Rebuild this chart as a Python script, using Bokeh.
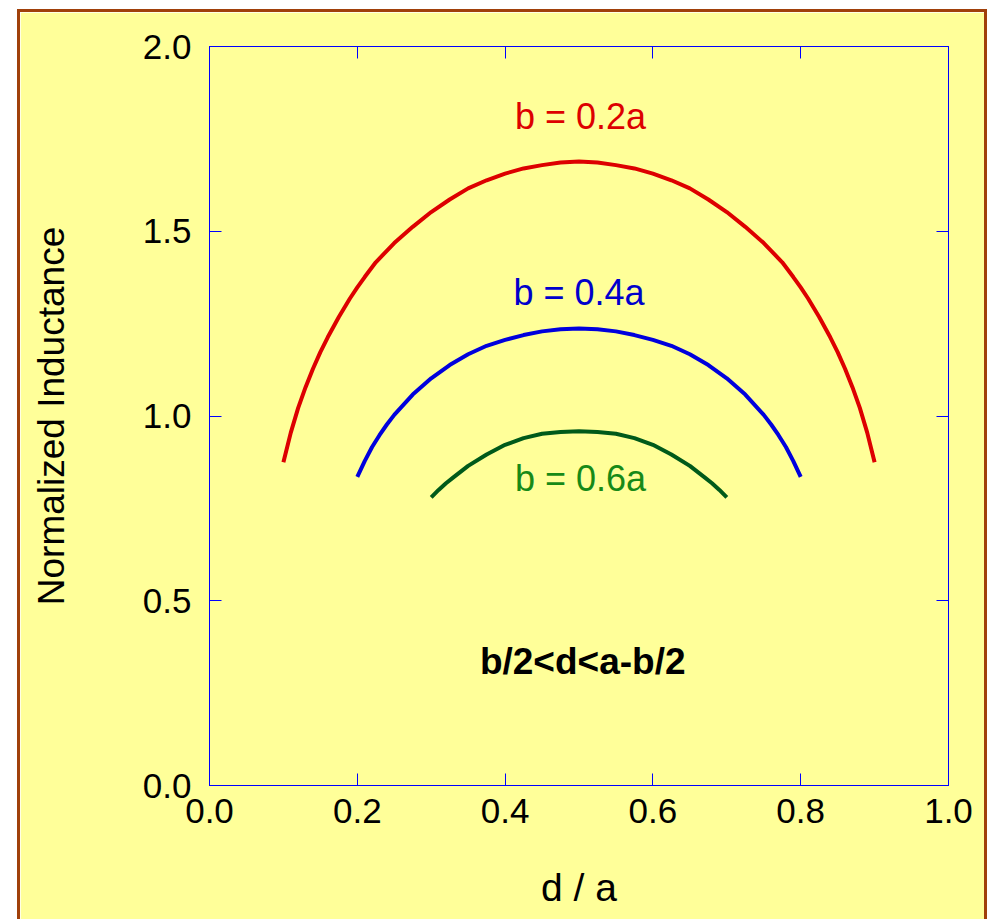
from bokeh.plotting import figure
from bokeh.models import Range1d, LinearAxis, FixedTicker, CustomJSTickFormatter
from bokeh.core.properties import value
from bokeh.embed import file_html
from bokeh.resources import INLINE

# ---- data ----
red_x = [0.1, 0.11, 0.12, 0.13, 0.14, 0.15, 0.16, 0.175, 0.19, 0.2, 0.21, 0.225, 0.25,
         0.275, 0.3, 0.325, 0.35, 0.375, 0.4, 0.425, 0.45, 0.475, 0.5,
         0.525, 0.55, 0.575, 0.6, 0.625, 0.65, 0.675, 0.7, 0.725, 0.75, 0.775, 0.79,
         0.8, 0.81, 0.825, 0.84, 0.85, 0.86, 0.87, 0.88, 0.89, 0.9]
red_y = [0.875, 0.955, 1.022, 1.078, 1.128, 1.173, 1.213, 1.268, 1.318, 1.348, 1.376, 1.416, 1.468,
         1.512, 1.552, 1.586, 1.616, 1.638, 1.656, 1.670, 1.679, 1.686, 1.689,
         1.686, 1.679, 1.670, 1.656, 1.638, 1.616, 1.586, 1.552, 1.512, 1.468, 1.416, 1.376,
         1.348, 1.318, 1.268, 1.213, 1.173, 1.128, 1.078, 1.022, 0.955, 0.875]

blue_x = [0.2, 0.21, 0.22, 0.23, 0.24, 0.25, 0.275, 0.3, 0.325, 0.35, 0.375, 0.4, 0.425,
          0.45, 0.475, 0.5,
          0.525, 0.55, 0.575, 0.6, 0.625, 0.65, 0.675, 0.7, 0.725, 0.75, 0.76, 0.77,
          0.78, 0.79, 0.8]
blue_y = [0.835, 0.878, 0.916, 0.948, 0.977, 1.003, 1.058, 1.102, 1.138, 1.167, 1.190, 1.206, 1.219,
          1.229, 1.235, 1.237,
          1.235, 1.229, 1.219, 1.206, 1.190, 1.167, 1.138, 1.102, 1.058, 1.003, 0.977, 0.948,
          0.916, 0.878, 0.835]

green_x = [0.3, 0.31, 0.32, 0.33, 0.35, 0.375, 0.4, 0.425, 0.45, 0.475, 0.5,
           0.525, 0.55, 0.575, 0.6, 0.625, 0.65, 0.67, 0.68, 0.69, 0.7]
green_y = [0.780, 0.800, 0.818, 0.834, 0.865, 0.896, 0.922, 0.940, 0.952, 0.957, 0.959,
           0.957, 0.952, 0.940, 0.922, 0.896, 0.865, 0.834, 0.818, 0.800, 0.780]

label_texts = ["b = 0.2a", "b = 0.4a", "b = 0.6a"]
label_x = [0.502, 0.5, 0.502]
label_y = [1.81, 1.335, 0.83]
label_colors = ["#DD0000", "#0000CC", "#178A17"]

note_text = ["b/2<d<a-b/2"]
note_x = [0.505]
note_y = [0.335]

x_ticks = [0.0, 0.2, 0.4, 0.6, 0.8, 1.0]
y_ticks = [0.0, 0.5, 1.0, 1.5, 2.0]

FONT = "Liberation Sans"
BG = "#FFFF99"
AXC = "#0000FF"
BRD = "3px solid #A0400A"

p = figure(width=970, height=910, output_backend="svg", toolbar_location=None,
           x_range=Range1d(0, 1), y_range=Range1d(0, 2),
           background_fill_color=BG, border_fill_color=BG,
           min_border_left=189, min_border_right=42, min_border_top=34, min_border_bottom=137)
p.styles = {"border-left": BRD, "border-top": BRD, "border-right": BRD,
            "margin-left": "17px", "margin-top": "9px"}
p.outline_line_color = AXC
p.outline_line_width = 1
p.grid.visible = False

def style_axis(ax, labels=True):
    ax.axis_line_color = AXC
    ax.major_tick_line_color = AXC
    ax.major_tick_in = 12
    ax.major_tick_out = 0
    ax.minor_tick_line_color = None
    ax.major_label_text_font = FONT
    ax.major_label_text_font_size = "35px"
    ax.major_label_text_color = "black"
    ax.axis_label_text_font = FONT
    ax.axis_label_text_font_size = "37px"
    ax.axis_label_text_font_style = "normal"
    ax.axis_label_text_color = "black"
    if not labels:
        ax.major_label_text_font_size = "1px"
        ax.major_label_text_color = None
        ax.major_label_standoff = 0

p.xaxis.ticker = FixedTicker(ticks=x_ticks)
p.yaxis.ticker = FixedTicker(ticks=y_ticks)
p.xaxis.formatter = CustomJSTickFormatter(code="return tick.toFixed(1);")
p.yaxis.formatter = CustomJSTickFormatter(code="return tick.toFixed(1);")
style_axis(p.xaxis[0])
style_axis(p.yaxis[0])
p.xaxis.axis_label = "d / a"
p.yaxis.axis_label = "Normalized Inductance"
p.xaxis.axis_label_text_font_size = "39px"
p.xaxis.major_label_standoff = 13
p.yaxis.major_label_standoff = 18
p.xaxis.axis_label_standoff = 40
p.yaxis.axis_label_standoff = 68

top = LinearAxis(ticker=FixedTicker(ticks=x_ticks))
right = LinearAxis(ticker=FixedTicker(ticks=y_ticks))
style_axis(top, labels=False)
style_axis(right, labels=False)
p.add_layout(top, "above")
p.add_layout(right, "right")

p.line(red_x, red_y, line_color="#DD0000", line_width=4, line_join="round")
p.line(blue_x, blue_y, line_color="#0000DD", line_width=4, line_join="round")
p.line(green_x, green_y, line_color="#005A1A", line_width=4, line_join="round")

p.text(x=label_x, y=label_y, text=label_texts, text_color=label_colors,
       text_font=value(FONT), text_font_size="36px", text_align="center", text_baseline="middle")
p.text(x=note_x, y=note_y, text=note_text, text_color="black",
       text_font=value(FONT), text_font_size="37px", text_font_style="bold",
       text_align="center", text_baseline="middle")

open("out.html", "w").write(file_html(p, INLINE))
